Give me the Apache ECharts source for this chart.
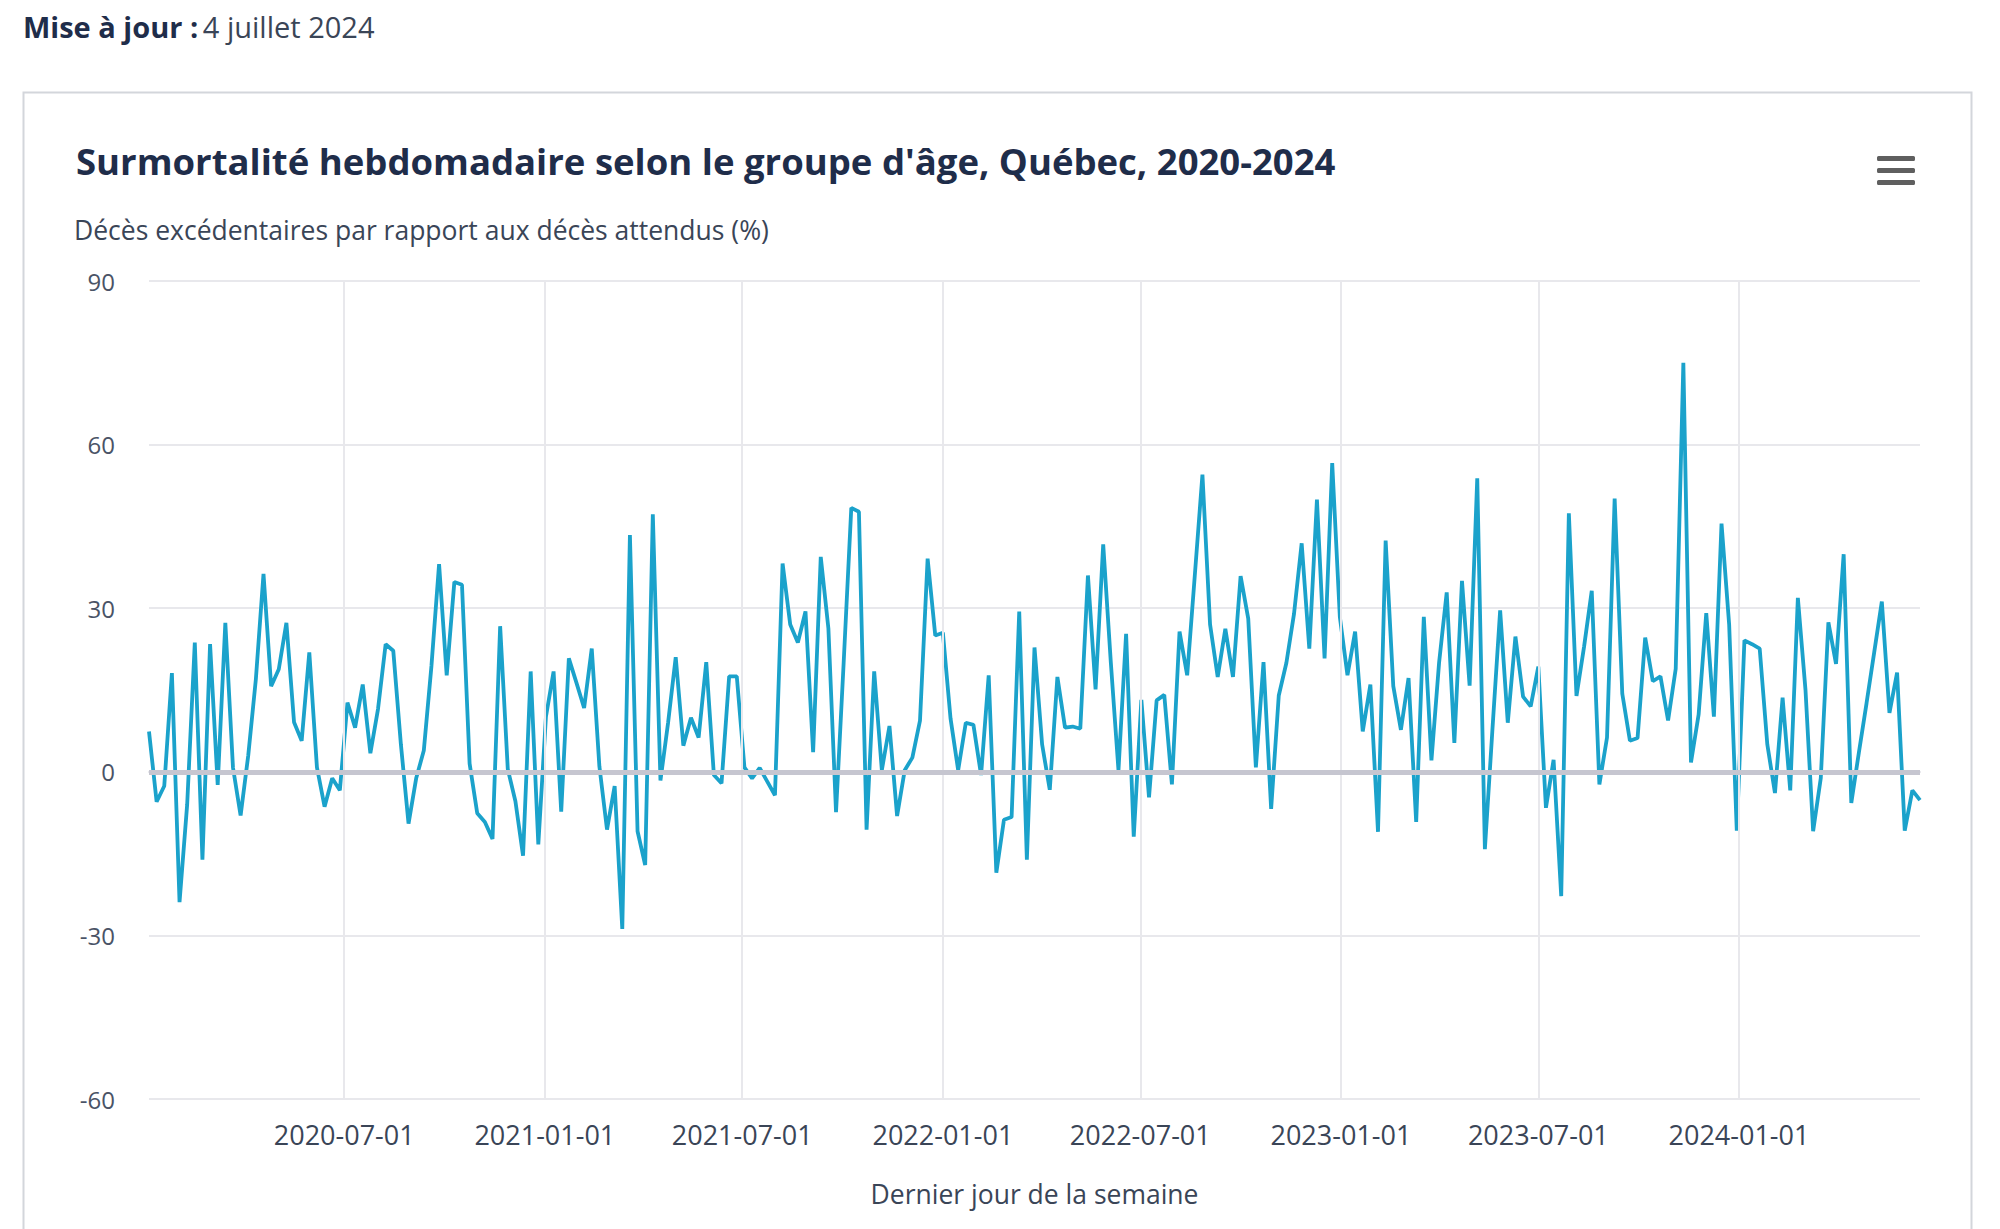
<!DOCTYPE html>
<html><head><meta charset="utf-8">
<script src="https://cdn.jsdelivr.net/npm/echarts@6/dist/echarts.min.js"></script>
<style>html,body{margin:0;padding:0;background:#fff;} #c{width:2000px;height:1229px;}</style>
</head><body><div id="c"></div>
<script>
// ---- data ----
const firstWeekEnd = '2020-01-04';   // weeks end on Saturday
const excessPct = [
  7.4, -5.5, -2.6, 18.1, -23.9, -6, 23.7, -16.1, 23.4, -2.4,
  27.3, 0.8, -8.0, 3, 17, 36.3, 15.7, 18.8, 27.3, 9.1,
  5.7, 21.9, 0.8, -6.4, -1.2, -3.4, 12.7, 8.1, 16, 3.4,
  11.5, 23.4, 22.2, 5, -9.5, -1.2, 3.9, 19.4, 38.1, 17.7,
  34.8, 34.3, 1.5, -7.6, -9.2, -12.3, 26.7, 0.5, -5.4, -15.4,
  18.4, -13.3, 10.1, 18.4, -7.3, 20.8, 16.3, 11.7, 22.6, 1,
  -10.6, -2.6, -28.8, 43.4, -10.9, -17.1, 47.2, -1.6, 9, 21,
  4.8, 9.9, 6.3, 20.1, -0.6, -2.1, 17.5, 17.5, 0.8, -1.2,
  0.7, -1.8, -4.3, 38.2, 27, 23.7, 29.4, 3.6, 39.4, 26.3,
  -7.4, 20, 48.4, 47.7, -10.6, 18.4, 0.3, 8.4, -8.1, 0.3,
  2.6, 9.4, 39.1, 25, 25.5, 9.8, 0.3, 9, 8.6, -0.6,
  17.7, -18.5, -8.8, -8.3, 29.4, -16.1, 22.8, 5, -3.3, 17.4,
  8.1, 8.3, 7.9, 36, 15.1, 41.7, 20, 0.3, 25.3, -11.9,
  13.2, -4.7, 13.1, 14.1, -2.3, 25.7, 17.7, 36, 54.5, 27,
  17.4, 26.2, 17.4, 35.9, 28.1, 0.8, 20.1, -6.8, 14, 20,
  29, 41.9, 22.6, 49.9, 20.8, 56.6, 28.4, 17.7, 25.7, 7.4,
  16, -11, 42.4, 15.7, 7.7, 17.2, -9.2, 28.4, 2.1, 20,
  32.9, 5.3, 35, 15.8, 53.8, -14.2, 8, 29.6, 9, 24.8,
  13.8, 12, 19.3, -6.6, 2.2, -22.8, 47.4, 13.9, 23, 33.2,
  -2.3, 6.3, 50.1, 14.3, 5.7, 6.2, 24.6, 16.6, 17.5, 9.4,
  18.9, 75, 1.7, 10.5, 29.1, 10.1, 45.5, 27, -10.8, 24.1,
  23.4, 22.6, 5, -3.9, 13.6, -3.4, 31.9, 15, -10.9, -1.2,
  27.4, 19.8, 39.9, -5.7, 3.6, 12.6, 21.9, 31.2, 10.8, 18.2,
  -10.8, -3.4, -5.2
];
const xTickLabels = ['2020-07-01','2021-01-01','2021-07-01','2022-01-01',
                     '2022-07-01','2023-01-01','2023-07-01','2024-01-01'];
const yTickValues = [-60, -30, 0, 30, 60, 90];

// ---- build ----
function addDays(s, n) {
  const d = new Date(s + 'T00:00:00Z');
  d.setUTCDate(d.getUTCDate() + n);
  return d.toISOString().slice(0, 10);
}
const weekEnds = excessPct.map((_, i) => addDays(firstWeekEnd, 7 * i));
const seriesData = weekEnds.map((d, i) => [d, excessPct[i]]);

const FONT = '"Open Sans", "Noto Sans", sans-serif';
const chart = echarts.init(document.getElementById('c'), null, {renderer: 'svg'});
chart.setOption({
  animation: false,
  backgroundColor: '#ffffff',
  textStyle: {fontFamily: FONT},
  title: [
    {
      left: 18, top: 7,
      text: '{b|Mise à jour :} {r|4 juillet 2024}',
      textStyle: {rich: {
        b: {fontFamily: FONT, fontWeight: 'bold', fontSize: 29, color: '#1f2d4a'},
        r: {fontFamily: FONT, fontWeight: 'normal', fontSize: 29, color: '#3a4557'}
      }}
    },
    {
      left: 71, top: 137,
      text: "Surmortalité hebdomadaire selon le groupe d'âge, Québec, 2020-2024",
      textStyle: {fontFamily: FONT, fontWeight: 'bold', fontSize: 36.5, color: '#1f2d4a'}
    },
    {
      left: 69, top: 211,
      text: 'Décès excédentaires par rapport aux décès attendus (%)',
      textStyle: {fontFamily: FONT, fontWeight: 'normal', fontSize: 26.5, color: '#3a4557'}
    }
  ],
  graphic: [
    {type: 'rect', shape: {x: 23.5, y: 92.5, width: 1948, height: 1200},
     style: {fill: 'none', stroke: '#d3d6db', lineWidth: 2}, z: -1},
    {type: 'rect', shape: {x: 1877, y: 156, width: 38, height: 5, r: 1.5}, style: {fill: '#5f5f5f'}},
    {type: 'rect', shape: {x: 1877, y: 168, width: 38, height: 5, r: 1.5}, style: {fill: '#5f5f5f'}},
    {type: 'rect', shape: {x: 1877, y: 180, width: 38, height: 5, r: 1.5}, style: {fill: '#5f5f5f'}}
  ],
  grid: {left: 149, right: 80, top: 281, bottom: 130, containLabel: false},
  xAxis: {
    type: 'time',
    min: weekEnds[0],
    max: weekEnds[weekEnds.length - 1],
    name: 'Dernier jour de la semaine',
    nameLocation: 'middle',
    nameGap: 81,
    nameTextStyle: {fontFamily: FONT, fontSize: 26.5, color: '#3a4557'},
    axisLine: {show: true, lineStyle: {color: '#e3e3e8', width: 2}},
    axisTick: {show: true, customValues: xTickLabels, length: 10, lineStyle: {color: '#e6e6ea', width: 2}},
    axisLabel: {
      customValues: xTickLabels,
      formatter: '{yyyy}-{MM}-{dd}',
      fontFamily: FONT, fontSize: 27, color: '#3a4557', margin: 22,
      showMinLabel: false, showMaxLabel: false
    },
    splitLine: {show: false}
  },
  yAxis: {
    type: 'value',
    min: -60, max: 90, interval: 30,
    axisLine: {show: false},
    axisTick: {show: false},
    axisLabel: {fontFamily: FONT, fontSize: 24, color: '#4a5366', margin: 34,
      customValues: yTickValues},
    splitLine: {show: true, lineStyle: {color: '#e8e8ec', width: 2}}
  },
  series: [
    {
      name: 'grid-helper',
      type: 'line',
      data: [],
      silent: true,
      z: 1,
      markLine: {
        silent: true, symbol: 'none', label: {show: false},
        animation: false,
        data: xTickLabels.map(d => ({xAxis: d, lineStyle: {color: '#e8e8ec', width: 2, type: 'solid'}}))
          .concat([{yAxis: 0, lineStyle: {color: '#c6c6d0', width: 5, type: 'solid'}}])
      }
    },
    {
      name: 'Surmortalité',
      type: 'line',
      z: 3,
      data: seriesData,
      showSymbol: false,
      symbol: 'none',
      lineStyle: {color: '#1ba2cb', width: 3.8},
      itemStyle: {color: '#1ba2cb'}
    }
  ]
});
</script>
</body></html>
